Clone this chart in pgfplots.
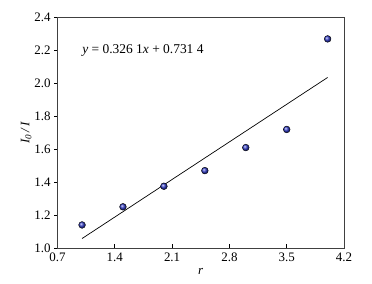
\documentclass[border=0pt]{standalone}
\usepackage{fontspec}
\setmainfont{Liberation Serif}
\usepackage{pgfplots}
\pgfplotsset{compat=1.18}
\begin{document}
\begin{tikzpicture}[x=1bp,y=1bp]
\useasboundingbox (0,0) rectangle (372,284);
\begin{axis}[at={(57.5bp,36bp)}, anchor=south west,
  scale only axis, width=286.5bp, height=230.5bp,
  xmin=0.7, xmax=4.2, ymin=1.0, ymax=2.4,
  xtick={0.7,1.4,2.1,2.8,3.5,4.2},
  ytick={1.0,1.2,1.4,1.6,1.8,2.0,2.2,2.4},
  xticklabels={0.7,1.4,2.1,2.8,3.5,4.2},
  yticklabels={1.0,1.2,1.4,1.6,1.8,2.0,2.2,2.4},
  x tick style={black, line width=0.8pt}, y tick style={black,line width=0.8pt},
  xtick pos=bottom, ytick pos=left,
  xtick align=inside, ytick align=outside,
  major tick length=3.5bp,
  axis line style={black!75, line width=0.9pt},
  tick label style={font=\fontsize{13}{15}\selectfont},
  xticklabel style={yshift=-1bp},
  xlabel={\itshape r}, ylabel={\itshape I\textsubscript{0}\,/\,I},
  label style={font=\fontsize{13}{15}\selectfont},
  xlabel style={yshift=0bp},
  ylabel style={yshift=-4bp},
]
\addplot[black, line width=0.7pt] coordinates {(1,1.0575) (4,2.0358)};
\addplot[only marks, mark=ball, mark size=3.4pt, ball color={rgb,255:red,50;green,60;blue,200}] coordinates {
(1,1.14) (1.5,1.25) (2,1.375) (2.5,1.47) (3,1.61) (3.5,1.72) (4,2.27)};
\node[anchor=west, font=\fontsize{13.5}{15}\selectfont] at (axis cs:0.96,2.2) {\itshape y\upshape{} = 0.326 1\itshape x\upshape{} + 0.731 4};
\end{axis}
\end{tikzpicture}
\end{document}
